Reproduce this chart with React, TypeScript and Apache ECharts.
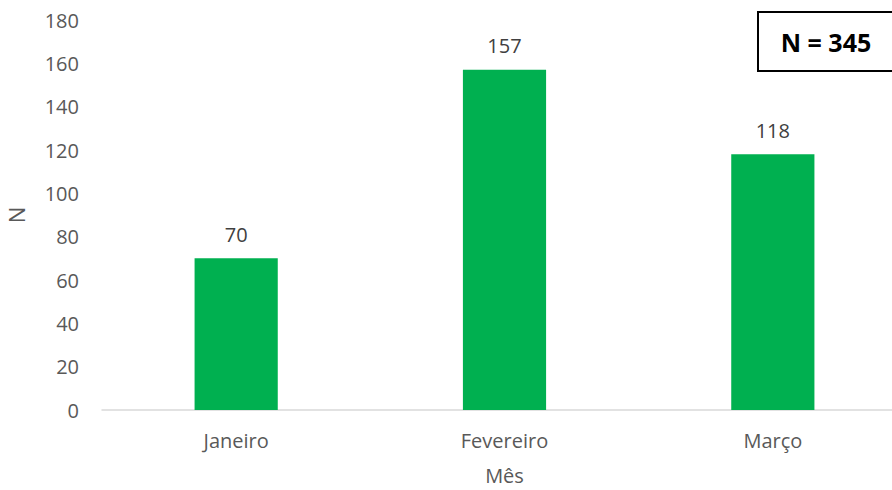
import React, { useEffect, useRef } from "react";
import * as echarts from "echarts";

const categories = ["Janeiro", "Fevereiro", "Março"];
const values = [70, 157, 118];
const totalLabel = "N = 345";
const xName = "Mês";
const yName = "N";

export default function App() {
  const ref = useRef<HTMLDivElement>(null);
  useEffect(() => {
    if (!ref.current) return;
    const chart = echarts.init(ref.current, undefined, { renderer: "svg" });
    const font = "'Open Sans', sans-serif";
    chart.setOption({
      animation: false,
      backgroundColor: "#ffffff",
      grid: {
        left: 102,
        right: -15,
        top: 20,
        bottom: 80,
        containLabel: false,
        outerBoundsMode: "none",
      },
      xAxis: {
        type: "category",
        data: categories,
        name: xName,
        nameLocation: "middle",
        nameGap: 54,
        nameTextStyle: { color: "#595959", fontSize: 20, fontFamily: font, lineHeight: 22 },
        axisLine: { lineStyle: { color: "#d9d9d9", width: 1.5 } },
        axisTick: { show: false },
        axisLabel: { color: "#595959", fontSize: 20, fontFamily: font, margin: 20 },
      },
      yAxis: {
        type: "value",
        min: 0,
        max: 180,
        interval: 20,
        name: yName,
        nameLocation: "middle",
        nameGap: 75,
        nameRotate: 90,
        nameTextStyle: { color: "#595959", fontSize: 22, fontFamily: font },
        axisLine: { show: false },
        axisTick: { show: false },
        splitLine: { show: false },
        axisLabel: { color: "#595959", fontSize: 20, fontFamily: font, margin: 23 },
      },
      series: [
        {
          type: "bar",
          data: values,
          barWidth: "31%",
          itemStyle: { color: "#00b050" },
          label: {
            show: true,
            position: "top",
            distance: 14,
            color: "#404040",
            fontSize: 20,
            fontFamily: font,
          },
        },
      ],
      graphic: [
        {
          type: "rect",
          shape: { x: 758, y: 12, width: 150, height: 59 },
          style: { fill: "#ffffff", stroke: "#000000", lineWidth: 2 },
          z: 10,
        },
        {
          type: "text",
          x: 826,
          y: 42,
          style: {
            text: totalLabel,
            fontSize: 25,
            fontWeight: "bold",
            fontFamily: font,
            fill: "#000000",
            align: "center",
            verticalAlign: "middle",
          },
          z: 11,
        },
      ],
    });
    return () => chart.dispose();
  }, []);
  return (
    <div
      ref={ref}
      style={{ position: "fixed", left: 0, top: 0, width: 892, height: 490, overflow: "hidden" }}
    />
  );
}
